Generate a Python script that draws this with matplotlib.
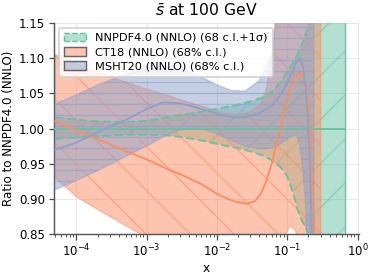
import matplotlib
matplotlib.use("Agg")
import matplotlib.pyplot as plt
from matplotlib.patches import Patch
import numpy as np

# ---------------- data ----------------
nn_x = [5e-5, 1e-4, 2e-4, 5e-4, 1e-3, 2e-3, 3e-3, 6e-3, 1e-2, 1.8e-2, 2.9e-2, 4.4e-2,
        6e-2, 8e-2, 0.1, 0.12, 0.14, 0.16, 0.18, 0.2, 0.22, 0.25, 0.3, 0.35, 0.45, 0.66]
nn_central = [1.0, 1.0, 1.0, 1.0, 1.0, 1.0, 1.0, 1.0, 1.0, 1.0, 1.0, 1.0,
              1.0, 1.0, 1.0, 1.0, 1.0, 1.0, 1.0, 1.0, 1.0, 1.0, 1.0, 1.0, 1.0, 1.0]
nn_upper = [1.016, 1.013, 1.010, 1.009, 1.011, 1.016, 1.019, 1.024, 1.028, 1.033, 1.038, 1.044,
            1.052, 1.066, 1.080, 1.093, 1.105, 1.118, 1.132, 1.145, 1.165, 1.20, 1.30, 1.40, 1.60, 1.80]
nn_lower = [0.985, 0.987, 0.989, 0.991, 0.991, 0.990, 0.988, 0.983, 0.978, 0.973, 0.968, 0.962,
            0.955, 0.945, 0.932, 0.910, 0.885, 0.870, 0.860, 0.850, 0.800, 0.70, 0.60, 0.50, 0.40, 0.20]

ct_x = [5e-5, 1e-4, 2e-4, 5e-4, 1e-3, 2e-3, 3e-3, 6e-3, 1e-2, 1.5e-2, 2e-2, 2.7e-2, 3.5e-2,
        4.2e-2, 5e-2, 6e-2, 7e-2, 8e-2, 9e-2, 0.11, 0.13, 0.15, 0.17, 0.19, 0.205, 0.22, 0.24, 0.26, 0.3]
ct_central = [1.010, 0.997, 0.985, 0.968, 0.956, 0.942, 0.935, 0.921, 0.907, 0.899, 0.895, 0.893, 0.897,
              0.907, 0.925, 0.950, 0.977, 1.000, 1.025, 1.059, 1.075, 1.079, 1.072, 1.055, 1.020, 0.965, 0.870, 0.780, 0.70]
ct_upper = [1.105, 1.092, 1.080, 1.066, 1.056, 1.047, 1.041, 1.032, 1.025, 1.021, 1.020, 1.022, 1.028,
            1.035, 1.055, 1.10, 1.17, 1.30, 1.40, 1.50, 1.55, 1.60, 1.60, 1.60, 1.60, 1.60, 1.60, 1.60, 1.60]
ct_lower = [0.930, 0.903, 0.885, 0.862, 0.845, 0.830, 0.820, 0.800, 0.780, 0.770, 0.765, 0.765, 0.765,
            0.770, 0.780, 0.800, 0.815, 0.830, 0.845, 0.862, 0.855, 0.835, 0.800, 0.760, 0.700, 0.650, 0.600, 0.550, 0.50]

ms_x = [5e-5, 1e-4, 2e-4, 5e-4, 1e-3, 1.7e-3, 3e-3, 6e-3, 1e-2, 1.6e-2, 2.5e-2, 4e-2, 6e-2,
        8e-2, 0.1, 0.12, 0.135, 0.15, 0.165, 0.18, 0.19, 0.2, 0.21, 0.22, 0.24]
ms_central = [0.970, 0.980, 0.995, 1.012, 1.028, 1.037, 1.036, 1.028, 1.021, 1.016, 1.016, 1.022, 1.032,
              1.048, 1.065, 1.082, 1.095, 1.100, 1.090, 1.065, 1.035, 1.000, 0.950, 0.870, 0.750]
ms_upper = [1.035, 1.048, 1.062, 1.077, 1.086, 1.089, 1.085, 1.073, 1.062, 1.054, 1.053, 1.068, 1.105,
            1.20, 1.30, 1.40, 1.45, 1.50, 1.55, 1.60, 1.60, 1.60, 1.60, 1.60, 1.60]
ms_lower = [0.913, 0.926, 0.940, 0.960, 0.975, 0.988, 0.998, 1.001, 0.992, 0.983, 0.975, 0.971, 0.972,
            0.978, 0.985, 0.989, 0.991, 0.978, 0.945, 0.900, 0.850, 0.800, 0.750, 0.700, 0.600]

labels = ["NNPDF4.0 (NNLO) (68 c.l.+1σ)", "CT18 (NNLO) (68% c.l.)", "MSHT20 (NNLO) (68% c.l.)"]
teal, orange, blue = "#66c2a5", "#fc8d62", "#8da0cb"

# ---------------- plot ----------------
plt.rcParams["font.family"] = ["DejaVu Sans"]
plt.rcParams["font.size"] = 6.2
plt.rcParams["hatch.linewidth"] = 0.8
plt.rcParams["mathtext.fontset"] = "dejavusans"

dpi = 132
fig = plt.figure(figsize=(374 / dpi, 275 / dpi), dpi=dpi)
ax = fig.add_axes([54 / 374, 1 - 234 / 275, (359 - 54) / 374, (234 - 23) / 275])

ax.grid(True, which="major", color="#e8e8e8", lw=0.6, zorder=0)
ax.set_axisbelow(True)

# bands
ax.fill_between(nn_x, nn_lower, nn_upper, facecolor=teal, alpha=0.5, edgecolor=teal,
                hatch="/", linewidth=0, zorder=1)
ax.fill_between(ct_x, ct_lower, ct_upper, facecolor=orange, alpha=0.5, edgecolor=orange,
                hatch="\\", linewidth=0.7, zorder=2)
ax.fill_between(ms_x, ms_lower, ms_upper, facecolor=blue, alpha=0.5, edgecolor=blue,
                hatch="--", linewidth=0.7, zorder=3)

# lines
ax.plot(nn_x, nn_upper, color=teal, lw=1.0, ls=(0, (4.5, 2)), zorder=5)
ax.plot(nn_x, nn_lower, color=teal, lw=1.0, ls=(0, (4.5, 2)), zorder=5)
ax.plot([nn_x[-1], nn_x[-1]], [nn_lower[-1], nn_upper[-1]], color=teal, lw=0.8, zorder=5)
ax.plot(nn_x, nn_central, color=teal, lw=1.0, zorder=6)
ax.plot(ct_x, ct_central, color=orange, lw=1.0, zorder=6)
ax.plot(ms_x, ms_central, color=blue, lw=1.0, zorder=6)

ax.set_xscale("log")
ax.set_xlim(4.8e-5, 1.05)
ax.set_ylim(0.85, 1.15)
ax.set_yticks([0.85, 0.90, 0.95, 1.00, 1.05, 1.10, 1.15])
ax.yaxis.set_major_formatter(matplotlib.ticker.FormatStrFormatter("%.2f"))

for s in ["top", "right"]:
    ax.spines[s].set_visible(False)
for s in ["left", "bottom"]:
    ax.spines[s].set_color("0.35")
    ax.spines[s].set_linewidth(0.8)
ax.tick_params(axis="both", which="major", length=3, width=0.7, color="0.3", pad=2, labelsize=6.4)
ax.tick_params(axis="x", which="minor", length=1.8, width=0.5, color="0.3")

ax.set_xlabel("x", labelpad=1, fontsize=6.6)
ax.set_ylabel("Ratio to NNPDF4.0 (NNLO)", labelpad=2.0, fontsize=6.5)
ax.set_title(r"$\bar{s}$ at 100 GeV", pad=4, fontsize=8.5)

handles = [
    Patch(facecolor=(0.4, 0.76, 0.647, 0.5), edgecolor=teal, linestyle="--", hatch="/", linewidth=0.8),
    Patch(facecolor=(0.988, 0.553, 0.384, 0.5), edgecolor="#666666", hatch="\\", linewidth=0.8),
    Patch(facecolor=(0.553, 0.627, 0.796, 0.5), edgecolor="#666666", linewidth=0.8),
]
ax.legend(handles, labels, loc="upper left", handlelength=2.0, handleheight=0.8,
          borderaxespad=0.4, framealpha=0.8, fancybox=True, labelspacing=0.35,
          borderpad=0.45, handletextpad=0.8, fontsize=6.2)

fig.savefig("out.png", dpi=dpi)
